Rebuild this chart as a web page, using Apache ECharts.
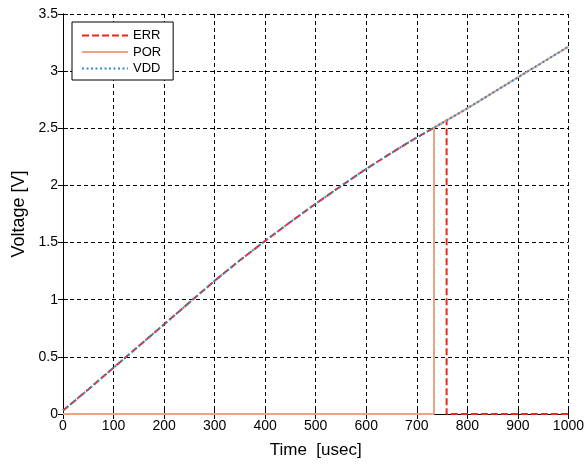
<!DOCTYPE html>
<html><head><meta charset="utf-8">
<script src="https://cdn.jsdelivr.net/npm/echarts@6/dist/echarts.min.js"></script>
<style>html,body{margin:0;padding:0;background:#fff}#c{width:587px;height:464px}</style>
</head><body><div id="c"></div>
<script>
// Data
const seriesNames = ['ERR', 'POR', 'VDD'];
const vddTime = [0, 50, 100, 150, 200, 250, 300, 350, 400, 450, 500, 550, 600, 650, 700, 734, 759, 800, 850, 900, 950, 1000];
const vddV    = [0.03, 0.215, 0.405, 0.595, 0.785, 0.975, 1.165, 1.345, 1.515, 1.68, 1.84, 1.995, 2.145, 2.285, 2.42, 2.505, 2.57, 2.675, 2.81, 2.945, 3.08, 3.215];
const errTime = [0, 50, 100, 150, 200, 250, 300, 350, 400, 450, 500, 550, 600, 650, 700, 734, 759, 759, 1000];
const errV    = [0.03, 0.215, 0.405, 0.595, 0.785, 0.975, 1.165, 1.345, 1.515, 1.68, 1.84, 1.995, 2.145, 2.285, 2.42, 2.505, 2.57, 0, 0];
const porTime = [0, 734, 734, 759, 800, 850, 900, 950, 1000];
const porV    = [0, 0, 2.505, 2.57, 2.675, 2.81, 2.945, 3.08, 3.215];
const xMin = 0, xMax = 1000, xStep = 100;
const yMin = 0, yMax = 3.5, yStep = 0.5;

const pairs = (t, v) => t.map((x, i) => [x, v[i]]);
const FONT = 'Liberation Sans, Arial, sans-serif';
const TICKFONT = '"Liberation Sans Narrow", "Liberation Sans", Arial, sans-serif';

const chart = echarts.init(document.getElementById('c'), null, {renderer: 'canvas'});
const axisCommon = {
  type: 'value',
  axisLine: {show: true, lineStyle: {color: '#000', width: 1}},
  axisTick: {show: true, inside: true, length: 5, lineStyle: {color: '#000'}},
  splitLine: {show: false},
};
chart.setOption({
  animation: false,
  backgroundColor: '#fff',
  grid: {left: 63, right: 13, top: 14, bottom: 49, containLabel: false},
  legend: {
    orient: 'vertical', left: 72, top: 22,
    data: seriesNames,
    itemWidth: 46, itemHeight: 12, itemGap: 3.5, itemTextGap: 7,
    padding: [7, 12, 5, 9],
    itemStyle: {opacity: 0},
    backgroundColor: '#fff', borderColor: '#000', borderWidth: 1, borderRadius: 0,
    textStyle: {fontFamily: FONT, fontSize: 13, color: '#000'}
  },
  xAxis: [
    Object.assign({}, axisCommon, {
      position: 'bottom', min: xMin, max: xMax, interval: xStep,
      name: 'Time  [usec]', nameLocation: 'middle', nameGap: 28,
      nameTextStyle: {fontFamily: FONT, fontSize: 17, color: '#000'},
      axisLabel: {fontFamily: TICKFONT, fontSize: 14, color: '#000', margin: 5, formatter: v => String(v)},
      splitLine: {show: true, lineStyle: {color: '#000', type: [4, 3], width: 1}}
    }),
    Object.assign({}, axisCommon, {
      position: 'top', min: xMin, max: xMax, interval: xStep,
      axisLabel: {show: false}
    })
  ],
  yAxis: [
    Object.assign({}, axisCommon, {
      position: 'left', min: yMin, max: yMax, interval: yStep,
      name: 'Voltage [V]', nameLocation: 'middle', nameGap: 35,
      nameTextStyle: {fontFamily: FONT, fontSize: 18, color: '#000'},
      axisLabel: {fontFamily: TICKFONT, fontSize: 14, color: '#000', margin: 5, formatter: v => String(v)},
      splitLine: {show: true, lineStyle: {color: '#000', type: [4, 3], width: 1}}
    }),
    Object.assign({}, axisCommon, {
      position: 'right', min: yMin, max: yMax, interval: yStep,
      axisLabel: {show: false}
    })
  ],
  series: [
    {name: 'ERR', type: 'line', data: pairs(errTime, errV), symbol: 'none', clip: false, z: 3,
     lineStyle: {color: '#E8291C', width: 2, type: [7, 3]}, itemStyle: {color: '#E8291C'}},
    {name: 'POR', type: 'line', data: pairs(porTime, porV), symbol: 'none', clip: false, z: 4,
     lineStyle: {color: '#EAA385', width: 2, type: 'solid'}, itemStyle: {color: '#EAA385'}},
    {name: 'VDD', type: 'line', data: pairs(vddTime, vddV), symbol: 'none', clip: false, z: 5,
     lineStyle: {color: '#2E8BCC', width: 2, type: [2, 2.5]}, itemStyle: {color: '#2E8BCC'}}
  ]
});
</script></body></html>
